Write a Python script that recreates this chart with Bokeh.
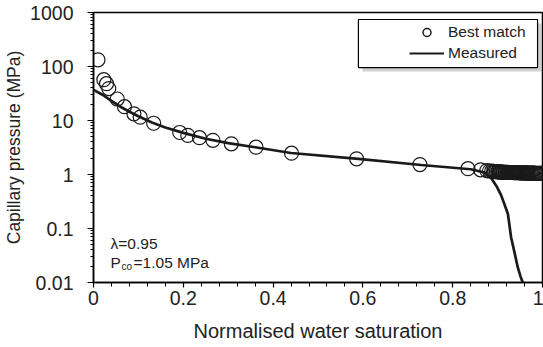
from bokeh.plotting import figure
from bokeh.models import (FixedTicker, Legend, LegendItem, Label, BoxAnnotation, Range1d)
from bokeh.embed import file_html
from bokeh.resources import INLINE

# ---------------- data ----------------
match_sw = [0.010, 0.023, 0.029, 0.034, 0.053, 0.069, 0.090, 0.104, 0.134,
            0.192, 0.210, 0.236, 0.266, 0.307, 0.362, 0.441, 0.586, 0.727,
            0.834, 0.862, 0.876, 0.882, 0.887, 0.891, 0.894, 0.897, 0.900,
            0.902, 0.904, 0.906, 0.908, 0.910, 0.912, 0.914, 0.916, 0.918,
            0.920, 0.922, 0.924, 0.926, 0.928, 0.930, 0.932, 0.934, 0.936,
            0.938, 0.940, 0.942, 0.944, 0.946, 0.948, 0.950, 0.952, 0.954,
            0.956, 0.958, 0.960, 0.962, 0.964, 0.966, 0.968, 0.970, 0.972,
            0.974, 0.976, 0.978, 0.980, 0.982, 0.984, 0.986, 0.988, 0.990,
            0.992, 0.994, 0.996, 0.998]
match_pc = [133, 57, 48, 39, 25, 18, 13.3, 11.5, 8.9,
            6.0, 5.3, 4.8, 4.3, 3.7, 3.2, 2.48, 1.95, 1.53,
            1.28, 1.22, 1.18, 1.16, 1.15, 1.14, 1.13, 1.13, 1.12,
            1.12, 1.12, 1.11, 1.11, 1.11, 1.11, 1.10, 1.10, 1.10,
            1.10, 1.10, 1.09, 1.09, 1.09, 1.09, 1.09, 1.09, 1.08,
            1.08, 1.08, 1.08, 1.08, 1.08, 1.08, 1.07, 1.07, 1.07,
            1.07, 1.07, 1.07, 1.07, 1.07, 1.06, 1.06, 1.06, 1.06,
            1.06, 1.06, 1.06, 1.06, 1.06, 1.05, 1.05, 1.05, 1.05,
            1.05, 1.05, 1.05, 1.05]

meas_sw = [0.0, 0.02, 0.04, 0.06, 0.08, 0.10, 0.13, 0.16, 0.20, 0.25, 0.30,
           0.36, 0.44, 0.59, 0.73, 0.84, 0.871, 0.886, 0.898, 0.908, 0.916,
           0.923, 0.930, 0.938, 0.945, 0.951, 0.956]
meas_pc = [37, 30, 23, 18, 14.5, 12, 9.2, 7.4, 5.9, 4.6, 3.8,
           3.2, 2.5, 1.95, 1.5, 1.25, 1.09, 0.85, 0.6, 0.41, 0.27,
           0.186, 0.069, 0.035, 0.019, 0.013, 0.01]

x_ticks = [0, 0.2, 0.4, 0.6, 0.8, 1.0]
x_tick_labels = ["0", "0.2", "0.4", "0.6", "0.8", "1"]
y_ticks = [0.01, 0.1, 1, 10, 100, 1000]
y_tick_labels = ["0.01", "0.1", "1", "10", "100", "1000"]

FONT = "Liberation Sans"
TXT = "#222222"

# ---------------- figure ----------------
p = figure(width=543, height=347, y_axis_type="log",
           x_range=Range1d(0, 1), y_range=Range1d(0.01, 1000),
           output_backend="svg", toolbar_location=None,
           min_border_left=93, min_border_right=1,
           min_border_top=12, min_border_bottom=65)
p.background_fill_color = "white"
p.border_fill_color = "white"
p.outline_line_color = "black"
p.outline_line_width = 1.5
p.xgrid.visible = False
p.ygrid.visible = False

x_minor = [i * 0.04 for i in range(26)]
p.xaxis.ticker = FixedTicker(ticks=x_ticks, minor_ticks=x_minor)
p.xaxis.major_label_overrides = {t: l for t, l in zip(x_ticks, x_tick_labels)}
y_minor = [m * d for d in [0.01, 0.1, 1, 10, 100] for m in range(2, 10)]
p.yaxis.ticker = FixedTicker(ticks=y_ticks, minor_ticks=y_minor)
p.yaxis.major_label_overrides = {t: l for t, l in zip(y_ticks, y_tick_labels)}

for ax in (p.xaxis[0], p.yaxis[0]):
    ax.axis_line_color = "black"
    ax.axis_line_width = 1.5
    ax.major_tick_line_color = "black"
    ax.minor_tick_line_color = "black"
    ax.major_tick_line_width = 1.2
    ax.minor_tick_line_width = 1
    ax.major_tick_in = 0
    ax.minor_tick_in = 0
    ax.major_label_text_font = FONT
    ax.major_label_text_font_size = "19.5px"
    ax.major_label_text_color = TXT
    ax.axis_label_text_font = FONT
    ax.axis_label_text_font_style = "normal"
    ax.axis_label_text_color = TXT

p.xaxis.major_tick_out = 5
p.xaxis.minor_tick_out = 4
p.xaxis.major_label_standoff = 3
p.yaxis.major_tick_out = 6
p.yaxis.minor_tick_out = 3
p.yaxis.major_label_standoff = 14
p.xaxis.axis_label = "Normalised water saturation"
p.xaxis.axis_label_text_font_size = "20px"
p.xaxis.axis_label_standoff = 12
p.yaxis.axis_label = "Capillary pressure (MPa)"
p.yaxis.axis_label_text_font_size = "17.5px"
p.yaxis.axis_label_standoff = 3

# data
p.line(meas_sw, meas_pc, line_color="#1a1a1a", line_width=2.7)
p.scatter(match_sw, match_pc, marker="circle", size=14, fill_alpha=0,
          line_color="#1a1a1a", line_width=1.2)

# legend proxies (placed outside the visible range)
leg_c = p.scatter([-5], [1], marker="circle", size=9, fill_alpha=0,
                  line_color="#1a1a1a", line_width=1.5)
leg_l = p.line([-6, -5], [1, 1], line_color="#1a1a1a", line_width=2)

# legend frame with shadow
shadow = BoxAnnotation(left=0.599, right=0.998, top=625, bottom=80.6,
                       fill_color="#999999", fill_alpha=0.45, line_alpha=0)
box = BoxAnnotation(left=0.590, right=0.989, top=742, bottom=95.7,
                    fill_color="white", fill_alpha=1, line_color="black",
                    line_width=1.2, line_alpha=1)
p.add_layout(shadow)
p.add_layout(box)

legend = Legend(items=[LegendItem(label="Best match", renderers=[leg_c]),
                       LegendItem(label="Measured", renderers=[leg_l])],
                location=(312, 215), orientation="vertical",
                padding=4, spacing=1, margin=0,
                glyph_width=35, glyph_height=20, label_height=20,
                label_standoff=4,
                border_line_alpha=0, background_fill_alpha=0,
                label_text_font=FONT, label_text_font_size="15.5px",
                label_text_color=TXT)
p.add_layout(legend, "center")

# annotations
ann_kw = dict(text_font=FONT, text_color=TXT, text_baseline="alphabetic")
p.add_layout(Label(x=0.038, y=0.0527, text="λ=0.95", text_font_size="15.5px", **ann_kw))
p.add_layout(Label(x=0.038, y=0.0234, text="P", text_font_size="15.5px", **ann_kw))
p.add_layout(Label(x=0.038, y=0.0234, x_offset=11, y_offset=-4, text="co",
                   text_font_size="10px", **ann_kw))
p.add_layout(Label(x=0.038, y=0.0234, x_offset=23, text="=1.05 MPa",
                   text_font_size="15.5px", **ann_kw))

open("out.html", "w").write(file_html(p, INLINE))
